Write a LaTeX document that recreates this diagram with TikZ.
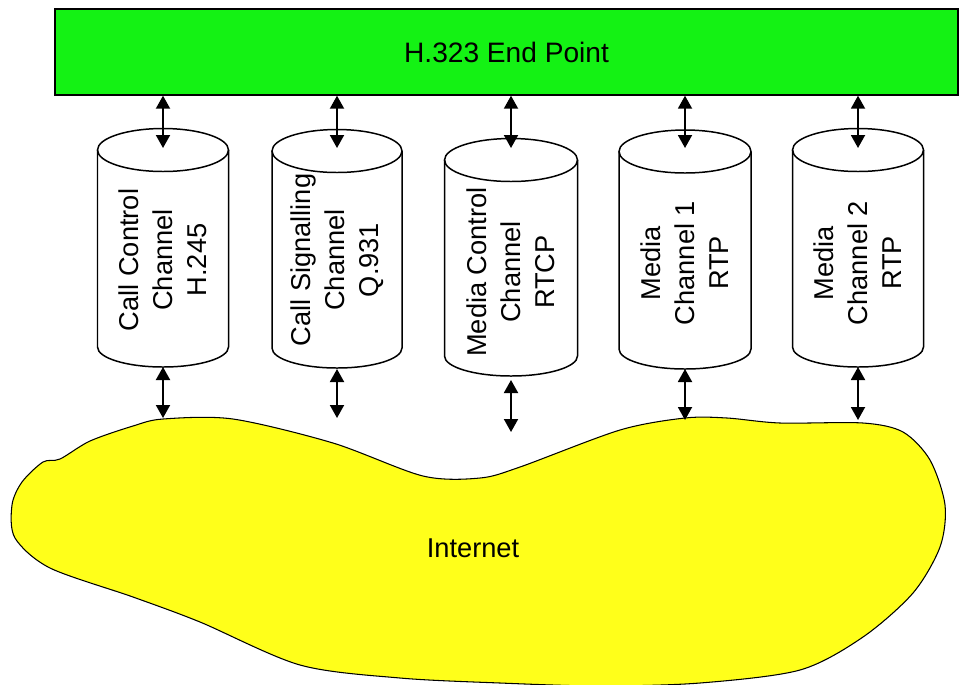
\documentclass[tikz,border=0pt]{standalone}
\usepackage{fontspec}
\setmainfont{Liberation Sans}
\usetikzlibrary{arrows.meta}
\definecolor{epgreen}{RGB}{20,242,20}
\definecolor{netyellow}{RGB}{255,255,26}

\begin{document}
\begin{tikzpicture}[x=0.02cm, y=-0.02cm,
    chan/.style={line width=0.85pt},
    conn/.style={line width=1.1pt, {Triangle[length=2.6mm,width=2.8mm]}-{Triangle[length=2.6mm,width=2.8mm]}},
    lab/.style={font=\fontsize{15.5}{19.3}\selectfont, align=center, inner sep=0pt}]
    \useasboundingbox (0,0) rectangle (959,684);
    \node[draw, line width=0.8pt, fill=epgreen, minimum width=18.06cm, minimum height=1.72cm,
      inner sep=0pt, font=\fontsize{16}{19}\selectfont] (ep) at (506.5,52) {H.323 End Point};
    % internet cloud
    \draw[fill=netyellow, line width=0.6pt] plot[smooth cycle, tension=0.5] coordinates {
      (163,419) (233,419) (333,443) (423,476) (480,478) (520,467) (620,430) (685,418)
      (727,418) (780,423) (863,423) (903,432) (930,460) (945,505) (940,547) (913,593)
      (863,637) (800,670) (700,683) (600,686) (500,683) (400,678) (300,665) (200,622)
      (133,597) (50,568) (15,538) (12,505) (22,482) (43,462) (60,459) (90,441) (133,426)};
    \node[lab] (net) at (473,548) {Internet};
    \foreach \n/\x/\w/\t/\b/\l/\e/\ty/\txt in {
        1/163/65.5/150/347/367/418/260/{Call Control\\Channel\\H.245},
        2/337/65/151/348/369/418/260/{Call Signalling\\Channel\\Q.931},
        3/511/66.5/160/356/380/432/272/{Media Control\\Channel\\RTCP},
        4/685/66/151.5/349/369/420/263/{Media\\Channel 1\\RTP},
        5/858/65.5/150/347/367/420/263/{Media\\Channel 2\\RTP}} {
      \draw[chan] (\x-\w,\t) -- (\x-\w,\b)
        arc[start angle=180, end angle=360, x radius=\w*0.02cm, y radius=0.4cm] -- (\x+\w,\t);
      \draw[chan] (\x,\t) ellipse[x radius=\w*0.02cm, y radius=0.43cm];
      \node[lab, rotate=90] (t\n) at (\x,\ty) {\txt};
      \coordinate (c\n-t) at (\x,148);
      \coordinate (c\n-b) at (\x,\l);
      \coordinate (n\n) at (\x,\e);
      \draw[conn] (ep.south -| c\n-t) -- (c\n-t);
      \draw[conn] (c\n-b) -- (n\n);
    }
\end{tikzpicture}
\end{document}
